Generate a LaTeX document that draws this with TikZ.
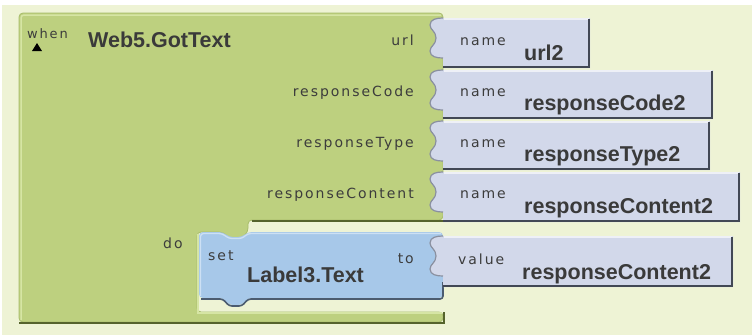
\documentclass[tikz,border=0pt]{standalone}
\usepackage{fontspec}
\setmainfont{DejaVu Sans}
\newfontfamily\lblfont[LetterSpace=14]{DejaVu Sans}
\newfontfamily\bigfont{Liberation Sans}
\definecolor{bgc}{HTML}{EEF3D5}
\definecolor{grn}{HTML}{BDD07F}
\definecolor{grnlight}{HTML}{D6E5A4}
\definecolor{grnedge}{HTML}{A7BC6A}
\definecolor{grndark}{HTML}{55632C}
\definecolor{blu}{HTML}{A7C8E9}
\definecolor{blulight}{HTML}{CDE0F4}
\definecolor{bludark}{HTML}{4C5C70}
\definecolor{lav}{HTML}{D2D8EA}
\definecolor{lavlight}{HTML}{EEF0F7}
\definecolor{lavdark}{HTML}{8A90A0}
\definecolor{lavshadow}{HTML}{424855}
\definecolor{txtgray}{HTML}{3C3C3C}
\definecolor{txtdark}{HTML}{3A3A3A}
\newcommand{\tabcurve}[1]{%
 .. controls (437,#1+40) and (430,#1+39) .. (430,#1+33)
 .. controls (430,#1+28) and (436,#1+27) .. (436,#1+20)
 .. controls (436,#1+13) and (430,#1+12) .. (430,#1+7)
 .. controls (430,#1+1) and (437,#1) .. (443,#1)}
\newcommand{\nblock}[3]{% #1 top, #2 bottom, #3 right
  \path[fill=lav] (443,#1) -- (#3,#1) -- (#3,#2) -- (443,#2) -- (443,#1+40) \tabcurve{#1} -- cycle;
  \draw[lavdark, line width=1.2pt] (443,#1+40) \tabcurve{#1};
  \draw[lavlight, line width=1.4pt] (444,#1+1) -- (#3-1.5,#1+1);
  \draw[lavshadow, line width=2pt] (443,#2-1) -- (#3-1,#2-1) -- (#3-1,#1+0.5);
}
\begin{document}
\begin{tikzpicture}[x=1pt,y=-1pt,
  lbl/.style={font=\lblfont\fontsize{14}{16}\selectfont, text=txtgray, inner sep=0pt},
  big/.style={font=\bigfont\fontsize{21.5}{24}\selectfont\bfseries, text=txtdark, inner sep=0pt}]
\useasboundingbox (0,0) rectangle (752,335);
\fill[white] (0,0) rectangle (752,335);
\fill[bgc] (2,5) rectangle (752,335);
% green event block
\path[fill=grn, draw=grnedge, line width=0.8pt, rounded corners=4pt]
  (19,13) -- (443,13) -- (443,220) -- (248,220) -- (248,232) -- (242,238) -- (229,238)
  -- (223,232) -- (197,232) -- (197,312) -- (443,312) -- (443,322) -- (19,322) -- cycle;
\draw[grnlight, line width=1.5pt, rounded corners=3pt] (21,320) -- (21,15) -- (441,15);
\draw[grnlight, line width=1.2pt] (198,234) -- (198,313) -- (442,313);
\draw[grndark, line width=1.6pt] (19,323) -- (444,323) -- (444,312);
\draw[grndark, line width=1.3pt] (252,221) -- (444,221) -- (444,214);
% blue setter block
\path[fill=blu, rounded corners=4pt]
  (199,232) -- (223,232) -- (229,237) -- (242,237) -- (248,232) -- (443,232) -- (443,298)
  -- (248,298) -- (242,305) -- (229,305) -- (223,298) -- (199,298) -- cycle;
\draw[blulight, line width=1.3pt, rounded corners=3pt] (200.5,296) -- (200.5,233.5) -- (222,233.5) -- (229,238.5) -- (242,238.5) -- (248,233.5) -- (441,233.5);
\draw[bludark, line width=1.6pt, rounded corners=3pt] (201,299) -- (223,299) -- (229,306) -- (242,306) -- (248,299) -- (443,299) -- (443,282);
% argument blocks
\nblock{18}{68}{590}
\nblock{70}{119}{713}
\nblock{121}{170}{710}
\nblock{172}{222}{740}
\nblock{236}{287}{733}
% texts
\fill[black] (32,51) -- (42,51) -- (37,43) -- cycle;
\node[lbl, anchor=base west, font=\lblfont\fontsize{13}{15}\selectfont] (when) at (27,38) {when};
\node[big, anchor=base west] (evt) at (88,47) {Web5.GotText};
\node[lbl, anchor=base east] (purl) at (414,45) {url};
\node[lbl, anchor=base east] (pcode) at (414,96) {responseCode};
\node[lbl, anchor=base east] (ptype) at (414,147) {responseType};
\node[lbl, anchor=base east] (pcont) at (414,198) {responseContent};
\node[lbl, anchor=base west] (n1) at (460,45) {name};
\node[lbl, anchor=base west] (n2) at (460,96) {name};
\node[lbl, anchor=base west] (n3) at (460,147) {name};
\node[lbl, anchor=base west] (n4) at (460,198) {name};
\node[big, anchor=base west] (v1) at (524,60) {url2};
\node[big, anchor=base west] (v2) at (524,110) {responseCode2};
\node[big, anchor=base west] (v3) at (524,161) {responseType2};
\node[big, anchor=base west] (v4) at (524,213) {responseContent2};
\node[lbl, anchor=base west] (do) at (163,248) {do};
\node[lbl, anchor=base west] (set) at (208,260) {set};
\node[big, anchor=base west] (lab) at (247,282) {Label3.Text};
\node[lbl, anchor=base east] (to) at (414,263) {to};
\node[lbl, anchor=base west] (val) at (458,264) {value};
\node[big, anchor=base west] (v5) at (522,279) {responseContent2};
\end{tikzpicture}
\end{document}
